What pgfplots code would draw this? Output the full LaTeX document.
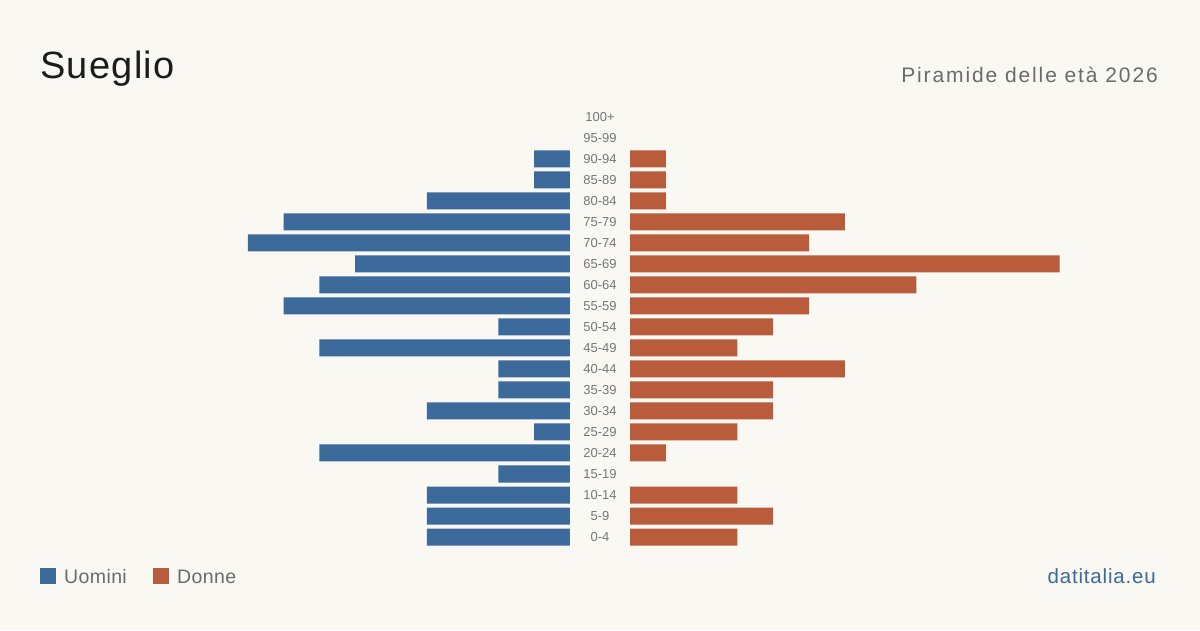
\documentclass[border=0pt]{standalone}
\usepackage{fontspec}
\setmainfont{Liberation Sans}
\newfontfamily\titlefont[LetterSpace=3.4]{Liberation Sans}
\newfontfamily\subfont[LetterSpace=9]{Liberation Sans}
\newfontfamily\legfont[LetterSpace=2]{Liberation Sans}
\newfontfamily\linkfont[LetterSpace=4]{Liberation Sans}
\usepackage{pgfplots}
\usepackage{pgfplotstable}
\pgfplotsset{compat=1.18}

\definecolor{bg}{HTML}{F9F8F3}
\definecolor{uomini}{HTML}{3B6A9B}
\definecolor{donne}{HTML}{B85C3C}
\definecolor{titlecol}{HTML}{1C1C1C}
\definecolor{subcol}{HTML}{6B6B6B}
\definecolor{agecol}{HTML}{777777}
\definecolor{linkcol}{HTML}{3B6A9B}

% age class index (0 = 0-4 ... 20 = 100+), men, women
\pgfplotstableread{
idx m f
0  4 3
1  4 4
2  4 3
3  2 0
4  7 1
5  1 3
6  4 4
7  2 4
8  2 6
9  7 3
10 2 4
11 8 5
12 7 8
13 6 12
14 9 5
15 8 6
16 4 1
17 1 1
18 1 1
19 0 0
20 0 0
}\pyramid

\pgfplotsset{
  pyr/.style={
    scale only axis,
    x=35.8pt, y=21pt,
    ymin=-0.5, ymax=20.5,
    xmin=0,
    xbar, bar width=17pt,
    axis lines=left,
    axis line style={draw=none},
    major tick length=0pt,
    xtick=\empty,
    clip=false,
    restrict x to domain=0.5:100,
  }
}

\begin{document}
\begin{tikzpicture}[x=1pt,y=1pt]
  \fill[bg] (0,0) rectangle (1200,630);

  % men, growing leftwards
  \begin{axis}[pyr, x dir=reverse, xmax=15.9,
      at={(570pt,82.5pt)}, anchor=south east, ytick=\empty]
    \addplot[fill=uomini, draw=none] table[x=m, y=idx] {\pyramid};
  \end{axis}

  % women, growing rightwards; age classes in the gap
  \begin{axis}[pyr, xmax=15.8,
      at={(630pt,82.5pt)}, anchor=south west,
      ytick={0,...,20},
      yticklabels={0-4,5-9,10-14,15-19,20-24,25-29,30-34,35-39,40-44,45-49,50-54,55-59,60-64,65-69,70-74,75-79,80-84,85-89,90-94,95-99,100+},
      yticklabel style={anchor=center, xshift=-30pt, inner sep=0pt,
        font=\fontsize{13}{15}\selectfont, text=agecol}]
    \addplot[fill=donne, draw=none] table[x=f, y=idx] {\pyramid};
  \end{axis}

  % titles
  \node[anchor=base west, inner sep=0pt, text=titlecol,
        font=\titlefont\fontsize{38}{42}\selectfont] at (40,551) {Sueglio};
  \node[anchor=base east, inner sep=0pt, text=subcol,
        font=\subfont\fontsize{21}{24}\selectfont] at (1158,547) {Piramide delle età 2026};

  % legend
  \fill[uomini] (40,46) rectangle (56,62);
  \node[anchor=base west, inner sep=0pt, text=subcol,
        font=\legfont\fontsize{19.5}{22}\selectfont] at (64,47) {Uomini};
  \fill[donne] (153,46) rectangle (169,62);
  \node[anchor=base west, inner sep=0pt, text=subcol,
        font=\legfont\fontsize{19.5}{22}\selectfont] at (177,47) {Donne};

  % source
  \node[anchor=base east, inner sep=0pt, text=linkcol,
        font=\linkfont\fontsize{20.5}{24}\selectfont] at (1156,47) {datitalia.eu};
\end{tikzpicture}
\end{document}
